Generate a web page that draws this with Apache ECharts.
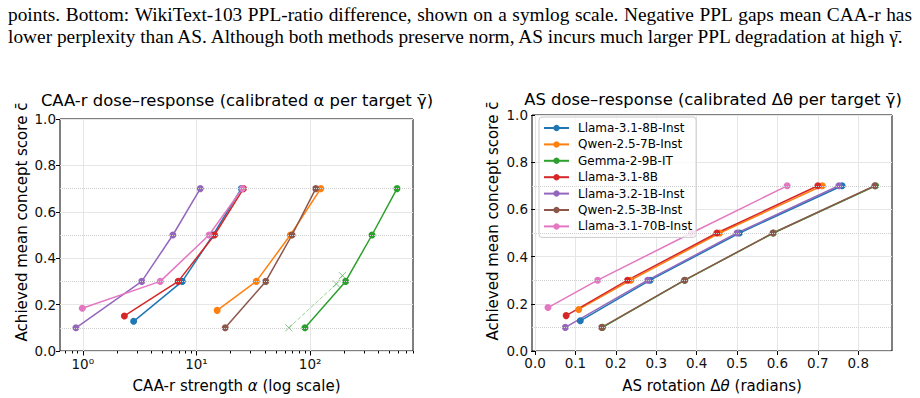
<!DOCTYPE html>
<html>
<head>
<meta charset="utf-8">
<script src="https://cdn.jsdelivr.net/npm/echarts@6/dist/echarts.min.js"></script>
<style>
html, body { margin: 0; padding: 0; background: #fff; }
#main { width: 920px; height: 398px; }
</style>
</head>
<body>
<div id="main"></div>
<script>
// models, in legend order
var models = ['Llama-3.1-8B-Inst', 'Qwen-2.5-7B-Inst', 'Gemma-2-9B-IT', 'Llama-3.1-8B',
              'Llama-3.2-1B-Inst', 'Qwen-2.5-3B-Inst', 'Llama-3.1-70B-Inst'];
var colors = ['#1f77b4', '#ff7f0e', '#2ca02c', '#d62728', '#9467bd', '#8c564b', '#e377c2'];
var targetLevels = [0.1, 0.3, 0.5, 0.7];

// CAA-r: calibrated alpha and achieved score, one row per model
var caaAlpha = [
  [2.8, 7.5, 14.0, 24.8],
  [15.2, 33.6, 67, 124],
  [90, 205, 350, 581],
  [2.32, 6.9, 14.4, 25.9],
  [0.87, 3.3, 6.2, 10.8],
  [17.9, 40.7, 69.3, 112],
  [0.99, 4.8, 12.9, 25.3]
];
var caaScore = [
  [0.128, 0.30, 0.50, 0.70],
  [0.175, 0.30, 0.50, 0.70],
  [0.10, 0.30, 0.50, 0.70],
  [0.151, 0.30, 0.50, 0.70],
  [0.10, 0.30, 0.50, 0.70],
  [0.10, 0.30, 0.50, 0.70],
  [0.184, 0.30, 0.50, 0.70]
];
// Gemma uncalibrated run (dashed, x markers)
var gemmaRawAlpha = [65, 170, 192];
var gemmaRawScore = [0.10, 0.289, 0.325];

// AS: rotation angle and achieved score
var asTheta = [
  [0.112, 0.285, 0.506, 0.760],
  [0.108, 0.237, 0.457, 0.711],
  [0.167, 0.371, 0.590, 0.843],
  [0.077, 0.229, 0.450, 0.700],
  [0.075, 0.279, 0.500, 0.752],
  [0.165, 0.370, 0.589, 0.841],
  [0.032, 0.155, 0.387, 0.624]
];
var asScore = [
  [0.128, 0.30, 0.50, 0.70],
  [0.176, 0.30, 0.50, 0.70],
  [0.10, 0.30, 0.50, 0.70],
  [0.150, 0.30, 0.50, 0.70],
  [0.10, 0.30, 0.50, 0.70],
  [0.10, 0.30, 0.50, 0.70],
  [0.184, 0.30, 0.50, 0.70]
];

var logMajorTicks = [1, 10, 100];
var logMinorTicks = [0.7, 0.8, 0.9, 2, 3, 4, 5, 6, 7, 8, 9, 20, 30, 40, 50, 60, 70, 80, 90,
                     200, 300, 400, 500, 600, 700, 800];
var thetaTicks = [0, 0.1, 0.2, 0.3, 0.4, 0.5, 0.6, 0.7, 0.8];
var captionLines = [
  'points. Bottom: WikiText-103 PPL-ratio difference, shown on a symlog scale. Negative PPL gaps mean CAA-r has',
  'lower perplexity than AS. Although both methods preserve norm, AS incurs much larger PPL degradation at high \u03b3\u0304.'
];

var FONT = 'DejaVu Sans';
var SERIF = 'Liberation Serif';
var sup = ['\u2070', '\u00b9', '\u00b2', '\u00b3'];

// caption: fit font to the last line, justify the first line word by word
var ctx = document.createElement('canvas').getContext('2d');
function measure(s, size) {
  ctx.font = size + 'px "' + SERIF + '"';
  return ctx.measureText(s).width;
}
var capSize = 17 * 899 / measure(captionLines[1], 17);
var graphics = [];
var words = captionLines[0].split(' ');
var wordW = words.map(function (w) { return measure(w, capSize); });
var gap = (904 - wordW.reduce(function (a, b) { return a + b; }, 0)) / (words.length - 1);
var cx = 8;
words.forEach(function (w, k) {
  graphics.push({ type: 'text', x: cx, y: 14, silent: true,
    style: { text: w, fill: '#000', font: capSize + 'px "' + SERIF + '"', verticalAlign: 'middle' } });
  cx += wordW[k] + gap;
});
graphics.push({ type: 'text', x: 8, y: 36, silent: true,
  style: { text: captionLines[1], fill: '#000', font: capSize + 'px "' + SERIF + '"', verticalAlign: 'middle' } });

// y axis titles
[[21.5, 222], [493, 221]].forEach(function (p) {
  graphics.push({ type: 'text', x: p[0], y: p[1], rotation: Math.PI / 2, silent: true,
    style: { text: 'Achieved mean concept score c\u0304', fill: '#000', font: '15px "' + FONT + '"',
             align: 'center', verticalAlign: 'middle' } });
});

var gridLine = { show: true, lineStyle: { color: '#e6e6e6', width: 1 } };
var tickStyle = { color: '#000', width: 1 };
var labelStyle = { color: '#111', fontFamily: FONT, fontSize: 13.5, lineHeight: 13 };
var nameStyle = { fontFamily: FONT, fontSize: 15, color: '#000',
  rich: { i: { fontFamily: FONT, fontSize: 15, fontStyle: 'italic' } } };
var titleStyle = { fontFamily: FONT, fontSize: 16.4, lineHeight: 16, fontWeight: 'normal', color: '#000' };

function yAxisFor(g) {
  return {
    type: 'value', gridIndex: g, min: 0, max: 1, interval: 0.2,
    axisLine: { show: false },
    axisTick: { show: true, length: 4, lineStyle: tickStyle },
    axisLabel: Object.assign({ margin: 4, formatter: function (v) { return v.toFixed(1); } }, labelStyle),
    splitLine: gridLine
  };
}

var targetLines = {
  silent: true, symbol: 'none', animation: false,
  label: { show: false },
  lineStyle: { type: 'dotted', color: '#cfcfcf', width: 1 },
  data: targetLevels.map(function (v) { return { yAxis: v }; })
};

var series = [];
models.forEach(function (m, i) {
  var s = {
    name: m, type: 'line', xAxisIndex: 0, yAxisIndex: 0,
    data: caaAlpha[i].map(function (a, j) { return [a, caaScore[i][j]]; }),
    symbol: 'circle', symbolSize: 7,
    lineStyle: { color: colors[i], width: 1.5 },
    itemStyle: { color: colors[i] }
  };
  if (i === 0) s.markLine = targetLines;
  series.push(s);
});
series.push({
  name: 'Gemma-2-9B-IT (uncalibrated)', type: 'line', xAxisIndex: 0, yAxisIndex: 0,
  data: gemmaRawAlpha.map(function (a, j) { return [a, gemmaRawScore[j]]; }),
  symbol: 'path://M0,0L10,10M10,0L0,10', symbolSize: 7,
  lineStyle: { color: 'rgba(44,160,44,0.5)', width: 1, type: [4, 2] },
  itemStyle: { color: 'rgba(0,0,0,0)', borderColor: 'rgba(44,160,44,0.6)', borderWidth: 1 }
});
models.forEach(function (m, i) {
  var s = {
    name: m, type: 'line', xAxisIndex: 2, yAxisIndex: 1,
    data: asTheta[i].map(function (t, j) { return [t, asScore[i][j]]; }),
    symbol: 'circle', symbolSize: 7,
    lineStyle: { color: colors[i], width: 1.5 },
    itemStyle: { color: colors[i] }
  };
  if (i === 0) s.markLine = targetLines;
  series.push(s);
});

var chart = echarts.init(document.getElementById('main'), null, { renderer: 'svg' });
chart.setOption({
  animation: false,
  backgroundColor: '#fff',
  title: [
    { text: 'CAA-r dose\u2013response (calibrated \u03b1 per target \u03b3\u0304)', left: 237, top: 92,
      textAlign: 'center', padding: 0, textStyle: titleStyle },
    { text: 'AS dose\u2013response (calibrated \u0394\u03b8 per target \u03b3\u0304)', left: 713, top: 91,
      textAlign: 'center', padding: 0, textStyle: titleStyle }
  ],
  grid: [
    { left: 60, top: 119, width: 353, height: 234, show: true, borderColor: '#000', borderWidth: 1 },
    { left: 532, top: 115, width: 360, height: 239, show: true, borderColor: '#000', borderWidth: 1 }
  ],
  legend: {
    data: models, orient: 'vertical', left: 539, top: 117,
    itemWidth: 25, itemHeight: 8, itemGap: 4.4,
    textStyle: { fontFamily: FONT, fontSize: 12, color: '#000', padding: [0, 0, 0, 4] },
    backgroundColor: 'rgba(255,255,255,0.8)', borderColor: '#cccccc', borderWidth: 1, borderRadius: 3,
    padding: [5, 4, 5, 4]
  },
  xAxis: [
    {
      type: 'log', logBase: 10, gridIndex: 0, min: 0.63, max: 803,
      axisLine: { show: false },
      axisTick: { show: true, length: 4.5, lineStyle: tickStyle, customValues: logMajorTicks },
      axisLabel: Object.assign({ margin: 6, customValues: logMajorTicks,
        formatter: function (v) { return '10' + sup[Math.round(Math.log10(v))]; } }, labelStyle),
      splitLine: gridLine,
      name: 'CAA-r strength {i|\u03b1} (log scale)', nameLocation: 'middle', nameGap: 27,
      nameTextStyle: nameStyle
    },
    {
      type: 'log', logBase: 10, gridIndex: 0, min: 0.63, max: 803, position: 'bottom',
      axisLine: { show: false },
      axisTick: { show: true, length: 2.5, lineStyle: tickStyle, customValues: logMinorTicks },
      axisLabel: { show: false },
      splitLine: { show: false }
    },
    {
      type: 'value', gridIndex: 1, min: -0.0075, max: 0.8835,
      axisLine: { show: false },
      axisTick: { show: true, length: 4, lineStyle: tickStyle, customValues: thetaTicks },
      axisLabel: Object.assign({ margin: 5, customValues: thetaTicks,
        formatter: function (v) { return v.toFixed(1); } }, labelStyle),
      splitLine: gridLine,
      name: 'AS rotation \u0394{i|\u03b8} (radians)', nameLocation: 'middle', nameGap: 27,
      nameTextStyle: nameStyle
    }
  ],
  yAxis: [yAxisFor(0), yAxisFor(1)],
  graphic: graphics,
  series: series
});
</script>
</body>
</html>
